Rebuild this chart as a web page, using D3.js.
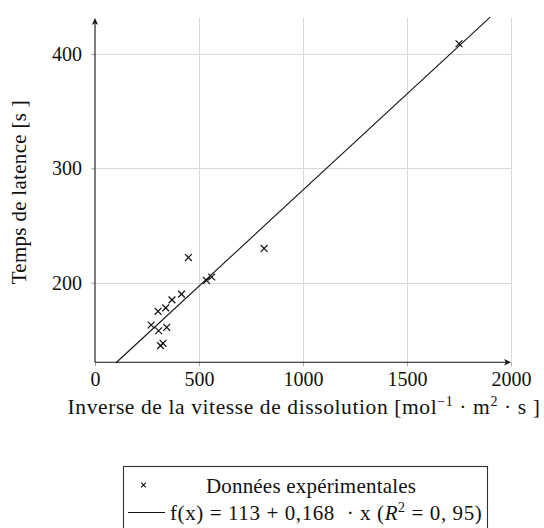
<!DOCTYPE html>
<html>
<head>
<meta charset="utf-8">
<script src="https://cdn.jsdelivr.net/npm/d3@7"></script>
<style>
  html, body { margin: 0; padding: 0; background: #fff; }
  svg { display: block; }
  text { font-family: "Liberation Serif", "DejaVu Serif", serif; fill: #111; }
</style>
</head>
<body>
<svg id="chart" width="544" height="528"></svg>
<script>
// ---- data ----
const xValues = [1750, 813, 449, 561, 536, 416, 370, 340, 303, 270, 306, 345, 315, 327];
const yValues = [409, 230, 222, 205, 202, 190, 185, 178, 175, 163, 158, 161, 145, 147];
const xTicks = [0, 500, 1000, 1500, 2000];
const yTicks = [200, 300, 400];
const fitIntercept = 113;
const fitSlope = 0.168;
const fitDomain = [100, 1900];
const xLabel = "Inverse de la vitesse de dissolution";
const yLabel = "Temps de latence [s ]";
const legendLabels = ["Données expérimentales", "f(x) = 113 + 0,168 \u00a0· x ("];

(function () {
// ---- layout ----
const svg = d3.select("#chart");
const x = d3.scaleLinear().domain([0, 2000]).range([95, 511]);
const y = d3.scaleLinear().domain([130.4, 431.5]).range([362.3, 18]);
const pL = x(0), pR = x(2000), pB = y(130.4), pT = y(431.5);

// grid
const grid = svg.append("g").attr("stroke", "#d9d9d9").attr("stroke-width", 1);
xTicks.filter(t => t > 0).forEach(t => {
  grid.append("line").attr("x1", Math.round(x(t)) + 0.5).attr("x2", Math.round(x(t)) + 0.5)
    .attr("y1", pT).attr("y2", pB);
});
yTicks.forEach(t => {
  grid.append("line").attr("y1", Math.round(y(t)) + 0.5).attr("y2", Math.round(y(t)) + 0.5)
    .attr("x1", pL).attr("x2", pR);
});

// axes (ticks + labels)
const xAxis = d3.axisBottom(x).tickValues(xTicks).tickSize(4).tickPadding(4).tickFormat(d3.format("d"));
const gx = svg.append("g").attr("transform", `translate(0,${pB})`).call(xAxis);
gx.select(".domain").remove();
gx.selectAll(".tick line").attr("stroke", "#aaa");
gx.selectAll(".tick text").attr("font-size", 20).attr("font-family", "Liberation Serif").attr("fill", "#111").attr("dy", "0.78em");

const yAxis = d3.axisLeft(y).tickValues(yTicks).tickSize(4).tickPadding(9).tickFormat(d3.format("d"));
const gy = svg.append("g").attr("transform", `translate(${pL},0)`).call(yAxis);
gy.select(".domain").remove();
gy.selectAll(".tick line").attr("stroke", "#aaa");
gy.selectAll(".tick text").attr("font-size", 20).attr("font-family", "Liberation Serif").attr("fill", "#111");

// axis lines with arrows
const axisG = svg.append("g").attr("stroke", "#111").attr("stroke-width", 1.1).attr("fill", "none");
axisG.append("line").attr("x1", pL).attr("x2", pR - 3).attr("y1", pB).attr("y2", pB);
axisG.append("line").attr("x1", pL).attr("x2", pL).attr("y1", pB).attr("y2", pT + 3);
svg.append("path").attr("fill", "#111")
  .attr("d", `M${pR},${pB} L${pR - 7},${pB - 3.2} L${pR - 5},${pB} L${pR - 7},${pB + 3.2} Z`);
svg.append("path").attr("fill", "#111")
  .attr("d", `M${pL},${pT} L${pL - 3.2},${pT + 7} L${pL},${pT + 5} L${pL + 3.2},${pT + 7} Z`);

// regression line
const fit = d => fitIntercept + fitSlope * d;
svg.append("path")
  .datum(fitDomain)
  .attr("fill", "none").attr("stroke", "#111").attr("stroke-width", 1.1)
  .attr("d", d3.line().x(d => x(d)).y(d => y(fit(d))));

// scatter crosses
const pts = xValues.map((v, i) => [v, yValues[i]]);
const s = 3.4;
svg.append("g").attr("stroke", "#111").attr("stroke-width", 1.2)
  .selectAll("path").data(pts).join("path")
  .attr("d", d => {
    const cx = x(d[0]), cy = y(d[1]);
    return `M${cx - s},${cy - s}L${cx + s},${cy + s}M${cx - s},${cy + s}L${cx + s},${cy - s}`;
  });

// axis titles
const xl = svg.append("text").attr("x", (pL + pR) / 2 + 1).attr("y", 414)
  .attr("text-anchor", "middle").attr("font-size", 21.5).attr("letter-spacing", 0.6);
xl.append("tspan").text(xLabel + " [mol");
xl.append("tspan").attr("font-size", 14).attr("dy", -8).text("\u22121");
xl.append("tspan").attr("dy", 8).text(" · m");
xl.append("tspan").attr("font-size", 14).attr("dy", -8).text("2");
xl.append("tspan").attr("dy", 8).text(" · s ]");

svg.append("text").attr("transform", `translate(26,${(pT + pB) / 2 + 2}) rotate(-90)`)
  .attr("text-anchor", "middle").attr("font-size", 21).attr("letter-spacing", 0.3).text(yLabel);

// legend
const lg = svg.append("g");
lg.append("rect").attr("x", 123.5).attr("y", 466.5).attr("width", 364).attr("height", 80)
  .attr("fill", "#fff").attr("stroke", "#333").attr("stroke-width", 1.1);
const ls = 2.3, lx = 143.5, ly = 485;
lg.append("path").attr("stroke", "#111").attr("stroke-width", 1.1)
  .attr("d", `M${lx - ls},${ly - ls}L${lx + ls},${ly + ls}M${lx - ls},${ly + ls}L${lx + ls},${ly - ls}`);
lg.append("text").attr("x", 311).attr("y", 493).attr("text-anchor", "middle").attr("font-size", 21)
  .attr("letter-spacing", 0.2).text(legendLabels[0]);
lg.append("line").attr("x1", 128).attr("x2", 165).attr("y1", 512.5).attr("y2", 512.5)
  .attr("stroke", "#111").attr("stroke-width", 1.1);
const t2 = lg.append("text").attr("x", 170).attr("y", 520).attr("font-size", 21).attr("letter-spacing", 0.6);
t2.append("tspan").text(legendLabels[1]);
t2.append("tspan").attr("font-style", "italic").text("R");
t2.append("tspan").attr("font-size", 14).attr("dy", -8).text("2");
t2.append("tspan").attr("dy", 8).text(" = 0, 95)");
})();
</script>
</body>
</html>
